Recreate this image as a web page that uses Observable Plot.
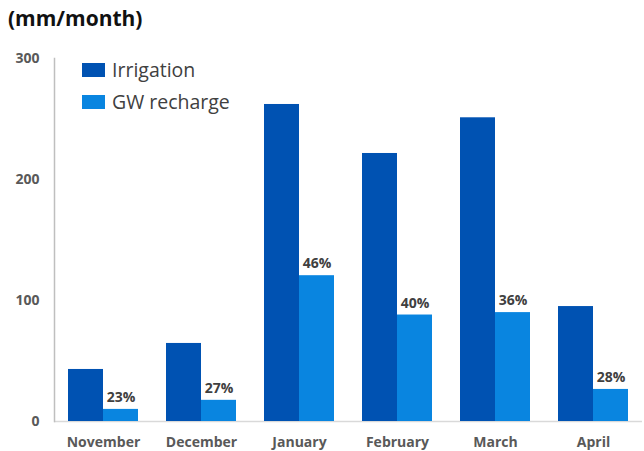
<!DOCTYPE html>
<html><head><meta charset="utf-8">
<script src="https://cdn.jsdelivr.net/npm/d3@7"></script>
<script src="https://cdn.jsdelivr.net/npm/@observablehq/plot@0.6"></script>
<style>
body{margin:0;background:#fff;font-family:"Open Sans",sans-serif;}
#wrap{position:relative;width:644px;height:451px;}
#title{position:absolute;left:8px;top:4px;font-size:21px;font-weight:700;color:#111;}
.leg{position:absolute;left:82px;display:flex;align-items:center;font-size:19.5px;color:#404040;}
.sw{width:23px;height:14px;margin-right:7px;}
</style></head>
<body><div id="wrap"><div id="title">(mm/month)</div><div id="chart"></div>
<div class="leg" style="top:56px"><div class="sw" id="sw0"></div><span id="l0"></span></div>
<div class="leg" style="top:88px"><div class="sw" id="sw1"></div><span id="l1"></span></div>
</div>
<script>
const months = ["November","December","January","February","March","April"];
const series = ["Irrigation","GW recharge"];
const irrigation = [43, 64.5, 262, 221.5, 251, 95];
const recharge = [10, 17.5, 120.5, 88, 90, 26.5];
const shares = ["23%","27%","46%","40%","36%","28%"];
const yTicks = [0, 100, 200, 300];
const colors = ["#0052B2", "#0985E0"];

const rows = [];
months.forEach((m, i) => {
  rows.push({month: m, series: series[0], value: irrigation[i]});
  rows.push({month: m, series: series[1], value: recharge[i], share: shares[i]});
});
const labelRows = rows.filter(d => d.series === series[1]);

const chart = Plot.plot({
  width: 644, height: 451,
  marginLeft: 51, marginRight: 0, marginTop: 58, marginBottom: 30,
  style: {fontFamily: "Open Sans, sans-serif"},
  fx: {domain: months, paddingInner: 0, paddingOuter: 0, label: null},
  x: {domain: series, axis: null, paddingInner: 0, paddingOuter: 0.375},
  y: {domain: [0, 300], axis: null},
  color: {domain: series, range: colors},
  marks: [
    Plot.ruleY([0], {stroke: "#d9d9d9", strokeWidth: 1.5}),
    Plot.barY(rows, {fx: "month", x: "series", y: "value", fill: "series"}),
    Plot.text(labelRows, {fx: "month", x: "series", y: "value", text: "share", dy: -12,
      fontSize: 14, fontWeight: 700, fill: "#404040"}),
    Plot.axisY({ticks: yTicks, tickSize: 0, tickPadding: 15, fontSize: 14, fontWeight: 700,
      fill: "#595959", label: null}),
    Plot.axisFx({anchor: "bottom", tickSize: 0, tickPadding: 16, fontSize: 14, fontWeight: 700,
      fill: "#595959", label: null}),
    Plot.frame({anchor: "left", stroke: "#bfbfbf", strokeWidth: 1.5, facetAnchor: "left"})
  ]
});
document.getElementById("chart").appendChild(chart);
series.forEach((s, i) => {
  document.getElementById("sw" + i).style.background = colors[i];
  document.getElementById("l" + i).textContent = s;
});
</script></body></html>
